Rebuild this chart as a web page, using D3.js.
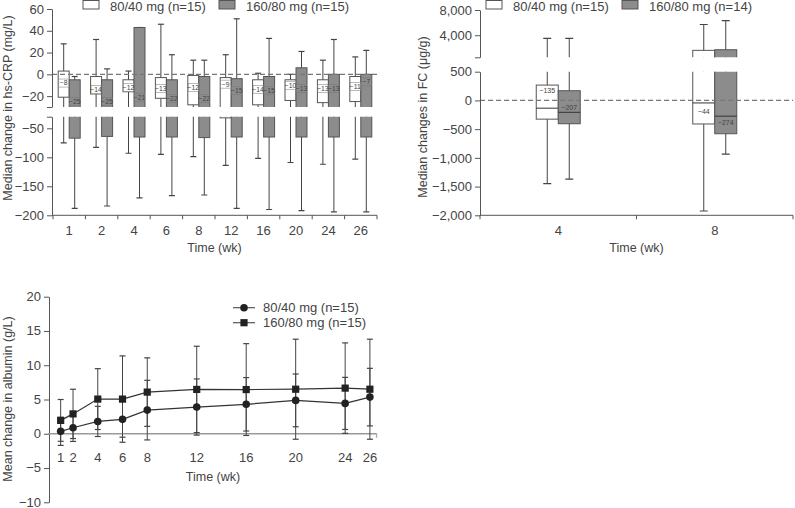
<!DOCTYPE html>
<html><head><meta charset="utf-8">
<script src="https://cdn.jsdelivr.net/npm/d3@7"></script>
<style>
body{margin:0;background:#fff}
svg{display:block}
text{font-family:"Liberation Sans",Arial,sans-serif;fill:#444}
</style>
</head><body><svg id="c" width="795" height="508"></svg>
<script>
// ---------- Data ----------
// Panel A: hs-CRP (median change, mg/L)
const crpWeeks = ["1","2","4","6","8","12","16","20","24","26"];
const crpLowMin = [-75, -83, -93, -95, -99, -114, -102, -109, -112, -103];
const crpLowQ1  = [-21, -18, -16, -22, -28, -32, -28, -24, -26, -25];
const crpLowMed = [-8, -14, -12, -13, -12, -9, -14, -10, -13, -11];
const crpLowQ3  = [3, -2, -5, -3, -1, -3, -5, -5, -5, -2];
const crpLowMax = [28, 32, 3, 46, 13, 18, 1, 0, 13, 16];
const crpHighMin = [-188, -184, -170, -166, -165, -188, -190, -192, -194, -194];
const crpHighQ1  = [-67, -64, -65, -65, -66, -65, -65, -65, -65, -65];
const crpHighMed = [-25, -25, -21, -22, -22, -15, -15, -13, -13, -7];
const crpHighQ3  = [-5, -5, 43, -5, -2, -4, -2, 6, 0, 0];
const crpHighMax = [-2, 5, 43, 18, 13, 51, 33, 21, 32, 22];
const crpTicksUpper = [60, 40, 20, 0, -20];
const crpTicksLower = [-50, -100, -150, -200];

// Panel B: fecal calprotectin (median change, ug/g)
const fcWeeks = ["4","8"];
const fcLowMin = [-1450, -1925];
const fcLowQ1  = [-326, -410];
const fcLowMed = [-135, -44];
const fcLowQ3  = [267, 1600];
const fcLowMax = [3500, 5700];
const fcHighMin = [-1370, -935];
const fcHighQ1  = [-406, -580];
const fcHighMed = [-207, -274];
const fcHighQ3  = [169, 1700];
const fcHighMax = [3500, 6300];
const fcTicksUpper = [8000, 4000];
const fcTicksLower = [500, 0, -500, -1000, -1500, -2000];

// Panel C: albumin (mean change, g/L)
const albWeeks = [1, 2, 4, 6, 8, 12, 16, 20, 24, 26];
const albLowMean = [0.35, 0.88, 1.8, 2.1, 3.45, 3.9, 4.3, 4.87, 4.43, 5.35];
const albLowSD   = [2.05, 2.0, 2.2, 2.6, 4.35, 4.1, 3.9, 3.85, 3.8, 4.2];
const albHighMean = [1.95, 2.9, 5.06, 5.06, 6.08, 6.47, 6.45, 6.5, 6.66, 6.5];
const albHighSD   = [3.05, 3.6, 4.44, 6.3, 5.0, 6.3, 6.7, 7.3, 6.6, 7.3];
const albTicks = [-10, -5, 0, 5, 10, 15, 20];

const labelLow15 = "80/40 mg (n=15)";
const labelHigh15 = "160/80 mg (n=15)";
const labelHigh14 = "160/80 mg (n=14)";

// ---------- Drawing ----------
const svg = d3.select("#c");
const fmt = d3.format(",");
const GRAY = "#8c8c8c", STROKE = "#555", AXIS = "#555";

function styleAxis(g) {
  g.selectAll(".domain").attr("stroke", AXIS);
  g.selectAll(".tick line").attr("stroke", AXIS);
  g.selectAll(".tick text").attr("font-size", 13).attr("fill", "#444")
    .style("font-family", '"Liberation Sans",Arial,sans-serif');
}

function drawBoxPanel(p) {
  const g = svg.append("g");
  const x = d3.scaleBand().domain(p.cats).range(p.xRange);
  p.segments.forEach((seg, si) => {
    const y = d3.scaleLinear().domain(seg.domain).range(seg.range);
    const id = p.id + "clip" + si;
    const top = si === 0 ? 0 : Math.min(...seg.range);
    const bot = si === p.segments.length - 1 ? Math.max(...seg.range) + 1 : Math.max(...seg.range);
    svg.append("clipPath").attr("id", id).append("rect")
      .attr("x", 0).attr("width", 795).attr("y", top).attr("height", bot - top);
    const cg = g.append("g").attr("clip-path", `url(#${id})`);
    p.series.forEach((s, k) => {
      p.cats.forEach((c, i) => {
        const bx = x(c) + x.bandwidth() / 2 - p.boxW + k * p.boxW;
        const cx = bx + p.boxW / 2;
        cg.append("line").attr("x1", cx).attr("x2", cx)
          .attr("y1", y(s.max[i])).attr("y2", y(s.min[i]))
          .attr("stroke", "#444").attr("stroke-width", 1);
        [s.max[i], s.min[i]].forEach(v => {
          cg.append("line").attr("x1", cx - p.capW / 2).attr("x2", cx + p.capW / 2)
            .attr("y1", y(v)).attr("y2", y(v)).attr("stroke", "#444").attr("stroke-width", 1.2);
        });
        cg.append("rect").attr("x", bx).attr("width", p.boxW)
          .attr("y", y(s.q3[i])).attr("height", y(s.q1[i]) - y(s.q3[i]))
          .attr("fill", s.fill).attr("stroke", STROKE).attr("stroke-width", 1);
        cg.append("line").attr("x1", bx).attr("x2", bx + p.boxW)
          .attr("y1", y(s.med[i])).attr("y2", y(s.med[i]))
          .attr("stroke", "#333").attr("stroke-width", 1);
      });
    });
    if (0 >= d3.min(seg.domain) && 0 <= d3.max(seg.domain)) {
      g.append("line").attr("x1", p.yAxisX).attr("x2", p.xRange[1])
        .attr("y1", y(0)).attr("y2", y(0))
        .attr("stroke", "#777").attr("stroke-width", 1.1).attr("stroke-dasharray", "5,3");
    }
    // median labels
    p.series.forEach((s, k) => {
      p.cats.forEach((c, i) => {
        const m = s.med[i];
        if (m < d3.min(seg.domain) || m > d3.max(seg.domain)) return;
        const bx = x(c) + x.bandwidth() / 2 - p.boxW + k * p.boxW;
        const cx = bx + p.boxW / 2;
        const ly = y(m) + (p.labelDy ? p.labelDy[k][i] : 0);
        if (p.labelBox) {
          g.append("rect").attr("x", bx + 0.5).attr("width", p.boxW - 1)
            .attr("y", ly - 4).attr("height", 8)
            .attr("fill", s.fill).attr("stroke", "#777").attr("stroke-width", 0.5);
        }
        g.append("text").attr("x", cx).attr("y", ly).attr("dy", "0.35em")
          .attr("text-anchor", "middle").attr("font-size", p.labelFs)
          .attr("fill", k === 0 ? "#555" : "#333")
          .text(fmt(m));
      });
    });
    // axis segment
    const ticks = seg.ticks.concat(seg.endTicks);
    const ax = d3.axisLeft(y).tickValues(ticks)
      .tickFormat(v => seg.endTicks.includes(v) && !seg.ticks.includes(v) ? "" : fmt(v))
      .tickSize(5).tickSizeOuter(0).tickPadding(3);
    const ag = svg.append("g").attr("transform", `translate(${p.yAxisX},0)`).call(ax);
    styleAxis(ag);
  });
  // x axis
  const xg = svg.append("g");
  const yb = p.xAxisY;
  xg.append("line").attr("x1", p.yAxisX).attr("x2", p.xRange[1]).attr("y1", yb).attr("y2", yb)
    .attr("stroke", AXIS);
  const bounds = p.cats.map(c => x(c)).concat([p.xRange[1]]);
  bounds.forEach(b => xg.append("line").attr("x1", b).attr("x2", b).attr("y1", yb).attr("y2", yb + 4).attr("stroke", AXIS));
  p.cats.forEach(c => xg.append("text").attr("x", x(c) + x.bandwidth() / 2).attr("y", yb + 20)
    .attr("text-anchor", "middle").attr("font-size", 13).text(c));
  xg.append("text").attr("x", (p.yAxisX + p.xRange[1]) / 2).attr("y", yb + 37)
    .attr("text-anchor", "middle").attr("font-size", 12.5).text("Time (wk)");
  // y title
  svg.append("text").attr("transform", `translate(${p.yTitleX},${p.yTitleY}) rotate(-90)`)
    .attr("text-anchor", "middle").attr("font-size", 12.5).text(p.yTitle);
  // legend
  p.legend.forEach((l, k) => {
    svg.append("rect").attr("x", l.x).attr("y", 0.5).attr("width", 16).attr("height", 8.5)
      .attr("fill", p.series[k].fill).attr("stroke", STROKE);
    svg.append("text").attr("x", l.x + 27).attr("y", 10.5).attr("font-size", 13).text(l.text);
  });
}

drawBoxPanel({
  id: "crp", cats: crpWeeks, xRange: [53, 377], yAxisX: 52, xAxisY: 215.3,
  boxW: 11, capW: 6, labelFs: 6.8, labelBox: true,
  series: [
    {min: crpLowMin, q1: crpLowQ1, med: crpLowMed, q3: crpLowQ3, max: crpLowMax, fill: "#fff"},
    {min: crpHighMin, q1: crpHighQ1, med: crpHighMed, q3: crpHighQ3, max: crpHighMax, fill: GRAY}
  ],
  segments: [
    {domain: [-30, 60], range: [107, 9], ticks: crpTicksUpper, endTicks: [-30]},
    {domain: [-200, -30], range: [215.3, 116.7], ticks: crpTicksLower, endTicks: [-30]}
  ],
  yTitle: "Median change in hs-CRP (mg/L)", yTitleX: 12, yTitleY: 108,
  legend: [{x: 83, text: labelLow15}, {x: 219, text: labelHigh15}]
});

drawBoxPanel({
  id: "fc", cats: fcWeeks, xRange: [480, 793], yAxisX: 480, xAxisY: 215.3,
  boxW: 22, capW: 8, labelFs: 7, labelBox: false,
  labelDy: [[-18, 9], [-5, 6]],
  series: [
    {min: fcLowMin, q1: fcLowQ1, med: fcLowMed, q3: fcLowQ3, max: fcLowMax, fill: "#fff"},
    {min: fcHighMin, q1: fcHighQ1, med: fcHighMed, q3: fcHighQ3, max: fcHighMax, fill: GRAY}
  ],
  segments: [
    {domain: [500, 8000], range: [57.3, 10], ticks: fcTicksUpper, endTicks: [500]},
    {domain: [-2000, 500], range: [215.3, 71.7], ticks: fcTicksLower, endTicks: []}
  ],
  yTitle: "Median changes in FC (μg/g)", yTitleX: 427, yTitleY: 117,
  legend: [{x: 486, text: labelLow15}, {x: 622, text: labelHigh14}]
});

// ---------- Panel C ----------
const yC = d3.scaleLinear().domain([-10, 20]).range([502.3, 296.7]);
const xC = d3.scaleLinear().domain([0, 26.55]).range([48.3, 376.7]);
const cg = svg.append("g");
const yAx = d3.axisLeft(yC).tickValues(albTicks).tickFormat(d3.format("")).tickSize(5).tickSizeOuter(0).tickPadding(3);
const yAg = cg.append("g").attr("transform", "translate(49,0)").call(yAx);
styleAxis(yAg);
yAg.selectAll(".tick text").attr("dy", "0.3em");
cg.append("line").attr("x1", xC(0)).attr("x2", xC(26.55)).attr("y1", yC(0)).attr("y2", yC(0))
  .attr("stroke", "#999").attr("stroke-width", 1.3);
cg.append("line").attr("x1", xC(26.55)).attr("x2", xC(26.55)).attr("y1", yC(0)).attr("y2", yC(0) + 4)
  .attr("stroke", "#999");
albWeeks.forEach(w => cg.append("text").attr("x", xC(w)).attr("y", yC(0) + 28)
  .attr("text-anchor", "middle").attr("font-size", 13).text(w));
cg.append("text").attr("x", 213).attr("y", 481).attr("text-anchor", "middle").attr("font-size", 12.5).text("Time (wk)");
svg.append("text").attr("transform", "translate(12,399) rotate(-90)")
  .attr("text-anchor", "middle").attr("font-size", 12.5).text("Mean change in albumin (g/L)");

const series = [
  {mean: albHighMean, sd: albHighSD, shape: "square"},
  {mean: albLowMean, sd: albLowSD, shape: "circle"}
];
series.forEach(s => {
  albWeeks.forEach((w, i) => {
    const cx = xC(w), lo = yC(s.mean[i] - s.sd[i]), hi = yC(s.mean[i] + s.sd[i]);
    cg.append("line").attr("x1", cx).attr("x2", cx).attr("y1", hi).attr("y2", lo).attr("stroke", "#444");
    [hi, lo].forEach(yy => cg.append("line").attr("x1", cx - 3).attr("x2", cx + 3).attr("y1", yy).attr("y2", yy).attr("stroke", "#444").attr("stroke-width", 1.2));
  });
});
const line = d3.line().x((d, i) => xC(albWeeks[i])).y(d => yC(d));
series.forEach(s => {
  cg.append("path").attr("d", line(s.mean)).attr("fill", "none").attr("stroke", "#333").attr("stroke-width", 1.2);
  s.mean.forEach((m, i) => {
    if (s.shape === "circle") cg.append("circle").attr("cx", xC(albWeeks[i])).attr("cy", yC(m)).attr("r", 3.8).attr("fill", "#222");
    else cg.append("rect").attr("x", xC(albWeeks[i]) - 3.6).attr("y", yC(m) - 3.6).attr("width", 7.2).attr("height", 7.2).attr("fill", "#222");
  });
});
// legend
[{y: 307.7, shape: "circle", text: labelLow15}, {y: 322.7, shape: "square", text: labelHigh15}].forEach(l => {
  cg.append("line").attr("x1", 233).attr("x2", 255).attr("y1", l.y).attr("y2", l.y).attr("stroke", "#555").attr("stroke-width", 1.2);
  if (l.shape === "circle") cg.append("circle").attr("cx", 244).attr("cy", l.y).attr("r", 3.8).attr("fill", "#222");
  else cg.append("rect").attr("x", 240.4).attr("y", l.y - 3.6).attr("width", 7.2).attr("height", 7.2).attr("fill", "#222");
  cg.append("text").attr("x", 263).attr("y", l.y + 4.6).attr("font-size", 13).text(l.text);
});
</script>
</body></html>
